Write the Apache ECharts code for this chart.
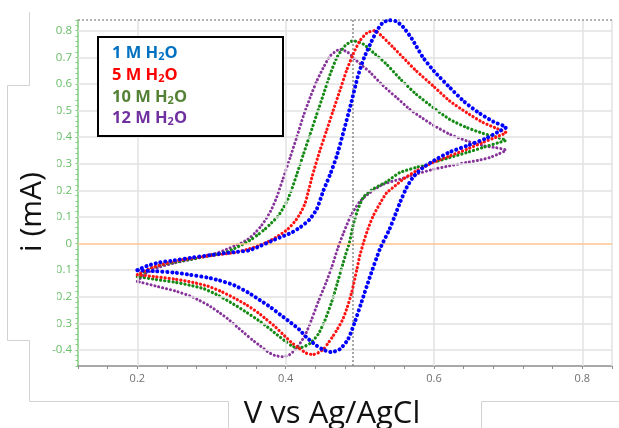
<!DOCTYPE html>
<html>
<head>
<meta charset="utf-8">
<script src="https://cdn.jsdelivr.net/npm/echarts@6/dist/echarts.min.js"></script>
<style>
html,body{margin:0;padding:0;background:#fff;}
#c{width:619px;height:428px;}
</style>
</head>
<body>
<div id="c"></div>
<script>
// ---- data (V vs Ag/AgCl, i in mA) ----
const legendNames = ['1 M', '5 M', '10 M', '12 M'];
const xTickLabels = [0.2, 0.4, 0.6, 0.8];
const yTickLabels = [-0.4, -0.3, -0.2, -0.1, 0, 0.1, 0.2, 0.3, 0.4, 0.5, 0.6, 0.7, 0.8];
const markerV = 0.488;

const blueFwd = [[0.200,-0.100],[0.215,-0.082],[0.230,-0.071],[0.250,-0.063],[0.273,-0.053],[0.300,-0.043],[0.318,-0.036],[0.335,-0.031],[0.350,-0.026],[0.365,-0.010],[0.381,0.010],[0.395,0.026],[0.408,0.041],[0.420,0.062],[0.432,0.090],[0.442,0.130],[0.451,0.200],[0.460,0.260],[0.469,0.330],[0.478,0.420],[0.488,0.525],[0.497,0.625],[0.506,0.700],[0.515,0.755],[0.523,0.800],[0.531,0.830],[0.540,0.839],[0.549,0.835],[0.558,0.815],[0.570,0.770],[0.585,0.700],[0.600,0.648],[0.620,0.590],[0.640,0.535],[0.660,0.492],[0.680,0.458],[0.697,0.436]];
const blueRev = [[0.690,0.425],[0.670,0.395],[0.645,0.368],[0.620,0.342],[0.600,0.312],[0.585,0.285],[0.572,0.250],[0.563,0.210],[0.555,0.160],[0.548,0.110],[0.540,0.054],[0.527,-0.021],[0.514,-0.122],[0.502,-0.222],[0.493,-0.297],[0.484,-0.360],[0.473,-0.397],[0.462,-0.408],[0.450,-0.398],[0.440,-0.380],[0.428,-0.352],[0.418,-0.322],[0.405,-0.293],[0.394,-0.270],[0.380,-0.240],[0.365,-0.212],[0.350,-0.185],[0.331,-0.157],[0.310,-0.138],[0.295,-0.128],[0.270,-0.117],[0.250,-0.109],[0.225,-0.104],[0.200,-0.100]];

const redFwd = [[0.200,-0.117],[0.220,-0.090],[0.250,-0.066],[0.275,-0.055],[0.300,-0.045],[0.331,-0.034],[0.348,-0.022],[0.363,-0.009],[0.377,0.008],[0.390,0.029],[0.402,0.052],[0.413,0.085],[0.420,0.115],[0.426,0.150],[0.431,0.200],[0.436,0.255],[0.446,0.348],[0.455,0.423],[0.464,0.499],[0.473,0.574],[0.482,0.649],[0.491,0.712],[0.500,0.762],[0.510,0.792],[0.520,0.800],[0.531,0.776],[0.545,0.737],[0.558,0.700],[0.576,0.649],[0.599,0.592],[0.621,0.536],[0.644,0.492],[0.666,0.455],[0.685,0.432],[0.697,0.417]];
const redRev = [[0.688,0.405],[0.666,0.380],[0.644,0.354],[0.621,0.329],[0.599,0.305],[0.576,0.273],[0.560,0.245],[0.548,0.218],[0.536,0.190],[0.527,0.150],[0.518,0.104],[0.511,0.055],[0.505,0.004],[0.500,-0.045],[0.496,-0.097],[0.489,-0.184],[0.483,-0.240],[0.477,-0.285],[0.470,-0.320],[0.464,-0.347],[0.457,-0.375],[0.451,-0.397],[0.444,-0.410],[0.437,-0.417],[0.428,-0.412],[0.418,-0.393],[0.408,-0.372],[0.396,-0.340],[0.385,-0.310],[0.374,-0.285],[0.363,-0.260],[0.347,-0.230],[0.331,-0.205],[0.313,-0.180],[0.295,-0.160],[0.275,-0.146],[0.251,-0.134],[0.225,-0.125],[0.200,-0.117]];

const greenFwd = [[0.200,-0.124],[0.215,-0.098],[0.230,-0.082],[0.250,-0.070],[0.273,-0.059],[0.295,-0.047],[0.318,-0.034],[0.330,-0.020],[0.342,-0.003],[0.354,0.016],[0.363,0.034],[0.372,0.054],[0.381,0.078],[0.390,0.104],[0.397,0.135],[0.403,0.167],[0.409,0.210],[0.415,0.260],[0.424,0.336],[0.433,0.411],[0.442,0.486],[0.451,0.561],[0.460,0.636],[0.469,0.699],[0.480,0.743],[0.491,0.762],[0.505,0.749],[0.518,0.718],[0.536,0.674],[0.554,0.620],[0.576,0.561],[0.599,0.511],[0.621,0.467],[0.644,0.436],[0.666,0.414],[0.685,0.399],[0.697,0.388]];
const greenRev = [[0.688,0.380],[0.666,0.361],[0.644,0.342],[0.621,0.323],[0.599,0.305],[0.576,0.286],[0.554,0.267],[0.536,0.232],[0.518,0.205],[0.505,0.175],[0.497,0.125],[0.491,0.070],[0.486,0.004],[0.481,-0.040],[0.477,-0.078],[0.469,-0.155],[0.462,-0.220],[0.453,-0.288],[0.444,-0.340],[0.433,-0.375],[0.420,-0.391],[0.410,-0.387],[0.400,-0.368],[0.385,-0.335],[0.374,-0.310],[0.363,-0.288],[0.347,-0.258],[0.330,-0.228],[0.310,-0.196],[0.290,-0.170],[0.270,-0.156],[0.250,-0.145],[0.225,-0.135],[0.200,-0.124]];

const purpleFwd = [[0.200,-0.142],[0.210,-0.115],[0.228,-0.090],[0.250,-0.073],[0.273,-0.059],[0.290,-0.047],[0.309,-0.034],[0.320,-0.022],[0.331,-0.009],[0.340,0.002],[0.349,0.016],[0.358,0.038],[0.367,0.066],[0.374,0.095],[0.381,0.129],[0.388,0.175],[0.396,0.240],[0.406,0.323],[0.415,0.400],[0.424,0.480],[0.433,0.549],[0.442,0.611],[0.451,0.662],[0.460,0.705],[0.473,0.730],[0.484,0.718],[0.496,0.686],[0.514,0.643],[0.531,0.594],[0.549,0.550],[0.567,0.505],[0.585,0.470],[0.599,0.445],[0.621,0.411],[0.644,0.386],[0.666,0.368],[0.684,0.360],[0.697,0.351]];
const purpleRev = [[0.688,0.338],[0.675,0.323],[0.660,0.313],[0.644,0.305],[0.621,0.292],[0.599,0.279],[0.576,0.261],[0.554,0.242],[0.531,0.222],[0.514,0.192],[0.500,0.158],[0.488,0.105],[0.478,0.040],[0.470,-0.020],[0.462,-0.090],[0.454,-0.150],[0.444,-0.218],[0.435,-0.285],[0.426,-0.345],[0.415,-0.392],[0.405,-0.418],[0.396,-0.425],[0.385,-0.420],[0.375,-0.405],[0.366,-0.385],[0.355,-0.362],[0.345,-0.338],[0.334,-0.312],[0.323,-0.285],[0.310,-0.258],[0.296,-0.232],[0.284,-0.214],[0.273,-0.199],[0.251,-0.178],[0.228,-0.162],[0.200,-0.142]];

// ---- styles ----
const FONT = "'Open Sans', 'Noto Sans', sans-serif";
const curveColors = ['#0000ff', '#ff1414', '#158a15', '#86339a'];
const legendColors = ['#0070c0', '#ff0000', '#548235', '#7030a0'];
const curveWidths = [4, 3.2, 3.2, 3];
const curveDash = [[0.1, 4.8], [0.1, 3.9], [0.1, 4.0], [0.1, 3.9]];
const curves = [[blueFwd, blueRev], [redFwd, redRev], [greenFwd, greenRev], [purpleFwd, purpleRev]];

const chart = echarts.init(document.getElementById('c'), null, {renderer: 'canvas'});

const gridLines = [];
xTickLabels.forEach(v => gridLines.push({xAxis: v}));
gridLines.push({xAxis: 0.84});
yTickLabels.forEach(v => {
  if (v !== 0) gridLines.push({yAxis: v});
});
gridLines.push({yAxis: 0, lineStyle: {color: '#ffc58c', width: 1.5, type: 'solid'}});
gridLines.push({yAxis: 0.84, lineStyle: {color: '#9a9a9a', width: 1.5, type: [2, 2]}});
gridLines.push({xAxis: markerV, lineStyle: {color: '#8a8a8a', width: 1.5, type: [2, 2]}});

const series = [{
  type: 'line',
  z: 1,
  data: [[0.2, 0]],
  showSymbol: false,
  symbol: 'none',
  lineStyle: {opacity: 0},
  silent: true,
  markLine: {
    silent: true,
    symbol: ['none', 'none'],
    label: {show: false},
    animation: false,
    lineStyle: {color: '#e2e2e2', width: 1.5, type: 'solid'},
    emphasis: {disabled: true},
    data: gridLines
  }
}];

curves.forEach((c, k) => {
  series.push({
    type: 'line',
    name: legendNames[k],
    z: 3 + (3 - k),
    data: c[0].concat(c[1]),
    showSymbol: false,
    symbol: 'none',
    smooth: 0.2,
    lineStyle: {color: curveColors[k], width: curveWidths[k], type: curveDash[k], cap: 'round'},
    emphasis: {disabled: true}
  });
});

function legendText(name, color, y) {
  return {
    type: 'text', left: 112, top: y - 11, z: 101,
    style: {
      text: '{a|' + name + ' H}{s|2}{a|O}',
      rich: {
        a: {fontFamily: FONT, fontSize: 16.5, fontWeight: 'bold', fill: color, color: color, verticalAlign: 'bottom', lineHeight: 22},
        s: {fontFamily: FONT, fontSize: 11, fontWeight: 'bold', fill: color, color: color, verticalAlign: 'bottom', lineHeight: 15}
      }
    }
  };
}

const option = {
  animation: false,
  backgroundColor: '#ffffff',
  grid: {left: 78, right: 7, top: 20, bottom: 62, containLabel: false, outerBoundsMode: 'none'},
  xAxis: {
    type: 'value', min: 0.12, max: 0.84, interval: 0.04,
    axisLine: {show: true, onZero: false, lineStyle: {color: '#8c8c8c', width: 1.5}},
    axisTick: {show: true, length: 3, lineStyle: {color: '#8c8c8c', width: 1}},
    axisLabel: {
      color: '#707070', fontSize: 11, fontFamily: FONT, margin: 7,
      formatter: v => {
        const r = Math.round(v * 5);
        if (Math.abs(v * 5 - r) > 1e-6) return '';
        const t = r / 5;
        return xTickLabels.some(x => Math.abs(x - t) < 1e-9) ? t.toFixed(1) : '';
      }
    },
    splitLine: {show: false}
  },
  yAxis: {
    type: 'value', min: -0.46, max: 0.84, interval: 0.02,
    axisLine: {show: true, onZero: false, lineStyle: {color: '#7fcc7f', width: 1.5}},
    axisTick: {show: true, length: 2.5, lineStyle: {color: '#7fcc7f', width: 1}},
    axisLabel: {
      color: '#68bd68', fontSize: 11.5, fontFamily: FONT, margin: 6,
      formatter: v => {
        const r = Math.round(v * 10);
        if (Math.abs(v * 10 - r) > 1e-6) return '';
        const t = r / 10;
        if (!yTickLabels.some(y => Math.abs(y - t) < 1e-9)) return '';
        return r === 0 ? '0' : t.toFixed(1);
      }
    },
    splitLine: {show: false}
  },
  series: series,
  graphic: [
    {type: 'rect', z: 100, shape: {x: 7, y: 85, width: 50, height: 255}, style: {fill: '#ffffff'}},
    {type: 'polyline', z: 100, shape: {points: [[29.5, 12], [29.5, 85.5], [7.5, 85.5], [7.5, 340.5], [29.5, 340.5], [29.5, 401.5], [228.5, 401.5], [228.5, 428]]}, style: {stroke: '#d2d2d2', lineWidth: 1, fill: null}},
    {type: 'polyline', z: 100, shape: {points: [[619, 401.5], [481.5, 401.5], [481.5, 428]]}, style: {stroke: '#d2d2d2', lineWidth: 1, fill: null}},
    {type: 'text', z: 101, x: 32, y: 212, rotation: Math.PI / 2,
      style: {text: 'i (mA)', fontFamily: FONT, fontSize: 30, fill: '#111111', align: 'center', verticalAlign: 'middle'}},
    {type: 'text', z: 101, x: 332, y: 414,
      style: {text: 'V vs Ag/AgCl', fontFamily: FONT, fontSize: 31, fill: '#111111', align: 'center', verticalAlign: 'middle'}},
    {type: 'rect', z: 100, shape: {x: 98, y: 37, width: 185, height: 99}, style: {fill: '#ffffff', stroke: '#000000', lineWidth: 2}},
    legendText(legendNames[0], legendColors[0], 56),
    legendText(legendNames[1], legendColors[1], 78),
    legendText(legendNames[2], legendColors[2], 100),
    legendText(legendNames[3], legendColors[3], 121)
  ]
};
chart.setOption(option);
</script>
</body>
</html>
